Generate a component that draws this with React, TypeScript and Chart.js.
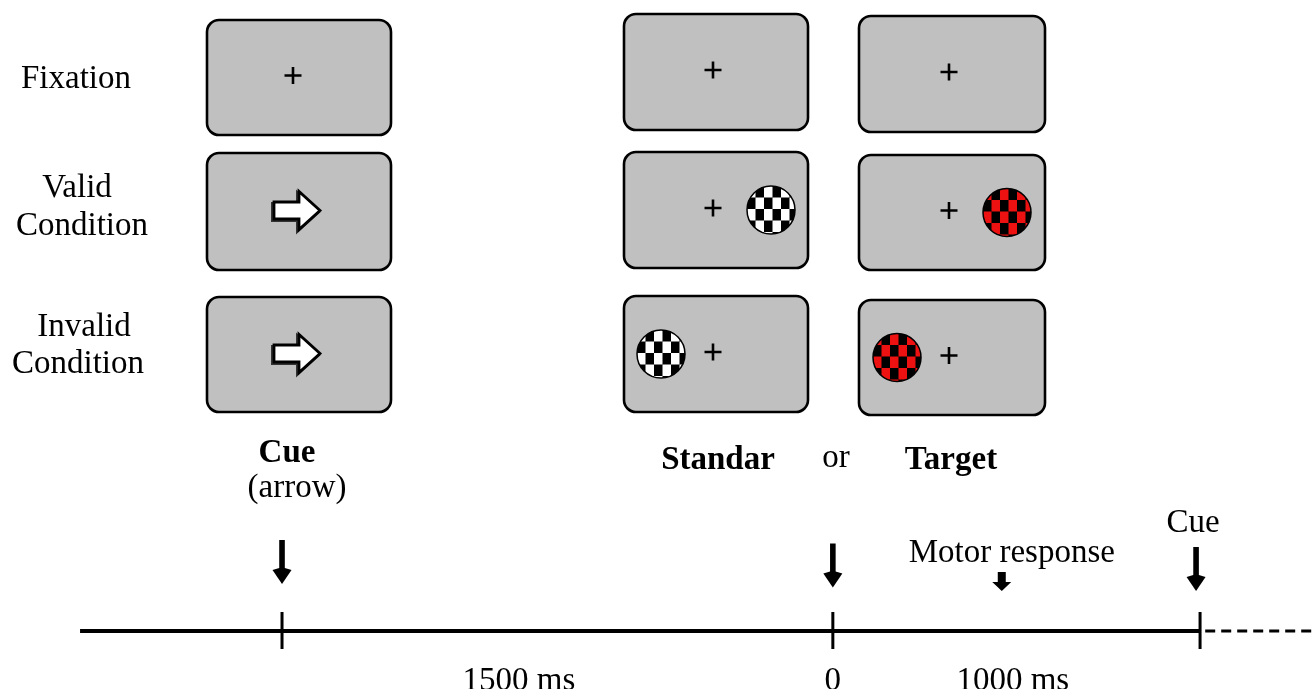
import React, { useEffect, useRef } from 'react';
import { Chart, registerables } from 'chart.js';
Chart.register(...registerables);

// ---------- data ----------
const conditionLabels = [['Fixation'], ['Valid', 'Condition'], ['Invalid', 'Condition']];
const panelLabels = ['Cue', 'Standar', 'Target'];
const panelSubLabels = ['(arrow)', '', ''];
const separatorLabel = 'or';
const cueDirection = ['none', 'right', 'right'];
const stimulusSide = [0, 1, -1]; // 0 none, 1 right, -1 left
const stimulusColors = ['#ffffff', '#ee1111']; // standard, target
const eventTimesMs = [-1500, 0, 1000];
const eventNames = ['', '', 'Cue'];
const motorResponseMs = 460;
const motorLabel = 'Motor response';
const intervalLabels = ['1500 ms', '0', '1000 ms'];
const intervalLabelMs = [-855, 0, 490];
const timelineStartMs = -2050;

// ---------- layout ----------
const W = 1315;
const H = 689;
const MS_MIN = -2268;
const MS_MAX = 1313;
const FONT = '"Liberation Serif", "Times New Roman", serif';
const FS = 33;
const boxX = [[207, 391], [624, 808], [859, 1045]];
const boxY = [
  [[20, 135], [153, 270], [297, 412]],
  [[14, 130], [152, 268], [296, 412]],
  [[16, 132], [155, 270], [300, 415]],
];
const condLabelPos = [[[76, 88]], [[77, 197], [82, 235]], [[84, 336], [78, 373]]];
const panelLabelPos = [[287, 462], [718, 469], [951, 469]];
const panelSubPos = [[297, 497]];
const separatorPos = [836, 467];
const timelineY = 631;

function App() {
  const ref = useRef<HTMLCanvasElement | null>(null);
  useEffect(() => {
    const canvas = ref.current;
    if (!canvas) return;

    const diagram = {
      id: 'diagram',
      afterDatasetsDraw(chart: any) {
        const ctx = chart.ctx as CanvasRenderingContext2D;
        const xl = chart.scales.xl;
        const xt = chart.scales.x;
        const y = chart.scales.y;
        const px = (v: number) => xl.getPixelForValue(v);
        const py = (v: number) => y.getPixelForValue(v);
        const pt = (v: number) => xt.getPixelForValue(v);

        const text = (s: string, x: number, yy: number, bold = false, size = FS) => {
          ctx.save();
          ctx.font = `${bold ? 'bold ' : ''}${size}px ${FONT}`;
          ctx.fillStyle = '#000';
          ctx.textAlign = 'center';
          ctx.textBaseline = 'alphabetic';
          ctx.fillText(s, x, yy);
          ctx.restore();
        };

        const plus = (cx: number, cy: number) => {
          ctx.save();
          ctx.strokeStyle = '#000';
          ctx.lineWidth = 2.6;
          ctx.beginPath();
          ctx.moveTo(cx - 8.5, cy);
          ctx.lineTo(cx + 8.5, cy);
          ctx.moveTo(cx, cy - 8.5);
          ctx.lineTo(cx, cy + 8.5);
          ctx.stroke();
          ctx.restore();
        };

        const checker = (cx: number, cy: number, r: number, color: string) => {
          ctx.save();
          ctx.beginPath();
          ctx.arc(cx, cy, r, 0, Math.PI * 2);
          ctx.clip();
          ctx.fillStyle = '#000';
          ctx.fillRect(cx - r, cy - r, 2 * r, 2 * r);
          const cw = 8.5;
          const ch = 11.5;
          const nx = Math.ceil((2 * r) / cw);
          const ny = Math.ceil((2 * r) / ch);
          for (let i = 0; i < nx; i++) {
            for (let j = 0; j < ny; j++) {
              if ((i + j) % 2 === 0) {
                ctx.fillStyle = color;
                ctx.fillRect(cx - r + i * cw, cy - r + j * ch, cw, ch);
              }
            }
          }
          ctx.restore();
          ctx.save();
          ctx.strokeStyle = '#000';
          ctx.lineWidth = 1.5;
          ctx.beginPath();
          ctx.arc(cx, cy, r, 0, Math.PI * 2);
          ctx.stroke();
          ctx.restore();
        };

        const blockArrow = (cx: number, cy: number) => {
          const pts = [
            [-24, -8.5], [1, -8.5], [1, -19], [22, 0], [1, 19], [1, 8.5], [-24, 8.5],
          ];
          ctx.save();
          ctx.beginPath();
          pts.forEach(([a, b], k) => (k ? ctx.lineTo(cx + a - 1.5, cy + b + 1.5) : ctx.moveTo(cx + a - 1.5, cy + b + 1.5)));
          ctx.closePath();
          ctx.strokeStyle = '#333';
          ctx.lineWidth = 3;
          ctx.stroke();
          ctx.beginPath();
          pts.forEach(([a, b], k) => (k ? ctx.lineTo(cx + a, cy + b) : ctx.moveTo(cx + a, cy + b)));
          ctx.closePath();
          ctx.fillStyle = '#fff';
          ctx.fill();
          ctx.strokeStyle = '#000';
          ctx.lineWidth = 2.8;
          ctx.lineJoin = 'miter';
          ctx.stroke();
          ctx.restore();
        };

        const downArrow = (x: number, top: number, bottom: number) => {
          ctx.save();
          ctx.fillStyle = '#000';
          ctx.fillRect(x - 2.8, top, 5.6, bottom - top - 12);
          ctx.beginPath();
          ctx.moveTo(x - 2.8, bottom - 16);
          ctx.lineTo(x - 9.5, bottom - 14);
          ctx.lineTo(x, bottom);
          ctx.lineTo(x + 9.5, bottom - 14);
          ctx.lineTo(x + 2.8, bottom - 16);
          ctx.closePath();
          ctx.fill();
          ctx.restore();
        };

        const blockDown = (x: number, top: number, bottom: number) => {
          ctx.save();
          ctx.fillStyle = '#000';
          ctx.fillRect(x - 4, top, 8, bottom - top - 8);
          ctx.beginPath();
          ctx.moveTo(x - 9.5, bottom - 9);
          ctx.lineTo(x + 9.5, bottom - 9);
          ctx.lineTo(x, bottom);
          ctx.closePath();
          ctx.fill();
          ctx.restore();
        };

        // condition labels
        conditionLabels.forEach((lines, r) => {
          lines.forEach((s, k) => {
            const [lx, ly] = condLabelPos[r][k];
            text(s, px(lx), py(ly));
          });
        });

        // panels
        panelLabels.forEach((label, c) => {
          const [x0, x1] = boxX[c];
          boxY[c].forEach(([y0, y1], r) => {
            const X0 = px(x0), X1 = px(x1), Y0 = py(y0), Y1 = py(y1);
            ctx.save();
            ctx.beginPath();
            (ctx as any).roundRect(X0, Y0, X1 - X0, Y1 - Y0, 12);
            ctx.fillStyle = '#c0c0c0';
            ctx.fill();
            ctx.strokeStyle = '#000';
            ctx.lineWidth = 2.6;
            ctx.stroke();
            ctx.restore();
            const cx = (X0 + X1) / 2;
            const cy = (Y0 + Y1) / 2;
            if (c === 0) {
              if (cueDirection[r] === 'none') plus(cx - 6, cy - 2);
              else blockArrow(cx - 1, cy - 1);
            } else {
              plus(cx - 3, cy - 2);
              const side = stimulusSide[r];
              if (side !== 0) checker(cx + side * 55, cy, 24, stimulusColors[c - 1]);
            }
          });
          const [tx, ty] = panelLabelPos[c];
          text(label, px(tx), py(ty), true);
          if (panelSubLabels[c]) {
            const [sx, sy] = panelSubPos[c];
            text(panelSubLabels[c], px(sx), py(sy));
          }
        });
        text(separatorLabel, px(separatorPos[0]), py(separatorPos[1]));

        // timeline arrows and labels
        eventTimesMs.forEach((t, i) => {
          const x = pt(t);
          downArrow(x - (i === 2 ? 4 : 0), py(540 + i * 3.5), py(584 + i * 3.5));
          if (eventNames[i]) text(eventNames[i], x - 7, py(532));
        });
        const mx = pt(motorResponseMs);
        blockDown(mx, py(572), py(591));
        text(motorLabel, mx + 10, py(562));
        intervalLabels.forEach((s, i) => {
          text(s, pt(intervalLabelMs[i]), py(690));
        });
      },
    };

    const tickSets = eventTimesMs.map((t) => ({
      data: [{ x: t, y: timelineY - 19 }, { x: t, y: timelineY + 18 }],
      borderColor: '#000',
      borderWidth: 3,
      pointRadius: 0,
      showLine: true,
      xAxisID: 'x',
      yAxisID: 'y',
    }));

    const chart = new Chart(canvas, {
      type: 'scatter',
      data: {
        datasets: [
          {
            data: [{ x: timelineStartMs, y: timelineY }, { x: eventTimesMs[2], y: timelineY }],
            borderColor: '#000',
            borderWidth: 4,
            pointRadius: 0,
            showLine: true,
            xAxisID: 'x',
            yAxisID: 'y',
          },
          {
            data: [{ x: eventTimesMs[2] + 14, y: timelineY }, { x: MS_MAX, y: timelineY }],
            borderColor: '#000',
            borderWidth: 3.2,
            borderDash: [10, 6],
            pointRadius: 0,
            showLine: true,
            xAxisID: 'x',
            yAxisID: 'y',
          },
          ...tickSets,
        ] as any,
      },
      options: {
        animation: false,
        responsive: true,
        maintainAspectRatio: false,
        layout: { padding: 0 },
        plugins: { legend: { display: false }, tooltip: { enabled: false } },
        events: [],
        scales: {
          x: { type: 'linear', min: MS_MIN, max: MS_MAX, display: false },
          xl: { type: 'linear', axis: 'x', min: 0, max: W, display: false },
          y: { type: 'linear', min: 0, max: H, reverse: true, display: false },
        },
      } as any,
      plugins: [diagram],
    });
    return () => chart.destroy();
  }, []);

  return (
    <div style={{ position: 'absolute', left: 0, top: 0, width: W, height: H, background: '#fff' }}>
      <canvas ref={ref} />
    </div>
  );
}

export default App;
